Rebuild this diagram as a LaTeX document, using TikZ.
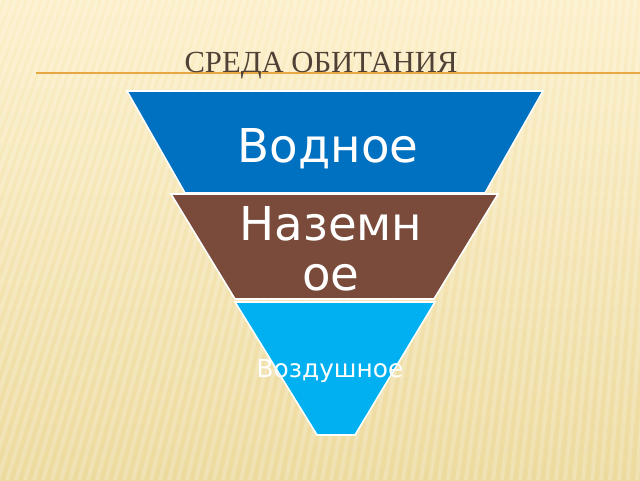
\documentclass[tikz,border=0pt]{standalone}
\usepackage{fontspec}
\setmainfont{DejaVu Sans}
\newfontfamily\headfont{Liberation Serif}
\usepackage{tikz}
\usetikzlibrary{positioning, calc}
\definecolor{water}{HTML}{0070C0}
\definecolor{ground}{HTML}{7A4B3A}
\definecolor{air}{HTML}{00B0F0}
\definecolor{paper}{HTML}{FCEFC8}
\definecolor{paperdark}{HTML}{EDDA9E}
\definecolor{rulecol}{HTML}{E8A742}
\definecolor{headcol}{HTML}{4F4136}
\tikzset{
    layer/.style={
        draw=white,
        line width=1.2pt,
        line join=miter,
    },
    levelname/.style={
        text=white,
        inner sep=0pt,
        anchor=base,
    },
}

\begin{document}
\begin{tikzpicture}[x=0.75pt,y=-0.75pt]
          \useasboundingbox (0,0) rectangle (640,480);
          \shade[top color=paper, bottom color=paperdark] (0,0) rectangle (640,480);
          \begin{scope}
            \clip (0,0) rectangle (640,480);
            \foreach \x in {-200,-191,...,760}
              \draw[white, opacity=0.22, line width=3pt] (\x,480) -- ({\x+150-0.18*\x},0);
          \end{scope}

          \coordinate (rule-l) at (36,73);
          \coordinate (rule-r) at (640,73);
          \draw[rulecol, line width=1pt] (rule-l) -- (rule-r);
          \node [anchor=base, inner sep=0pt, text=headcol, font=\headfont\fontsize{23}{28}\selectfont] (title) at (321,72) {СРЕДА ОБИТАНИЯ};

          \filldraw[layer, fill=water] (127,91) -- (543,91) -- (485,193) -- (185,193) -- cycle;
          \filldraw[layer, fill=ground] (171,194) -- (498,194) -- (434,299) -- (235,299) -- cycle;
          \filldraw[layer, fill=air] (235,302) -- (435,302) -- (355,435) -- (317,435) -- cycle;

          \node [levelname, font=\fontsize{35}{42}\selectfont] (L1) at (328,162) {Водное};
          \node [levelname, align=center, font=\fontsize{35}{37.5}\selectfont] (L2) at (331,290) {Наземн\\ое};
          \node [levelname, font=\fontsize{18.6}{22}\selectfont] (L3) at (330,377) {Воздушное};
        \end{tikzpicture}
\end{document}
